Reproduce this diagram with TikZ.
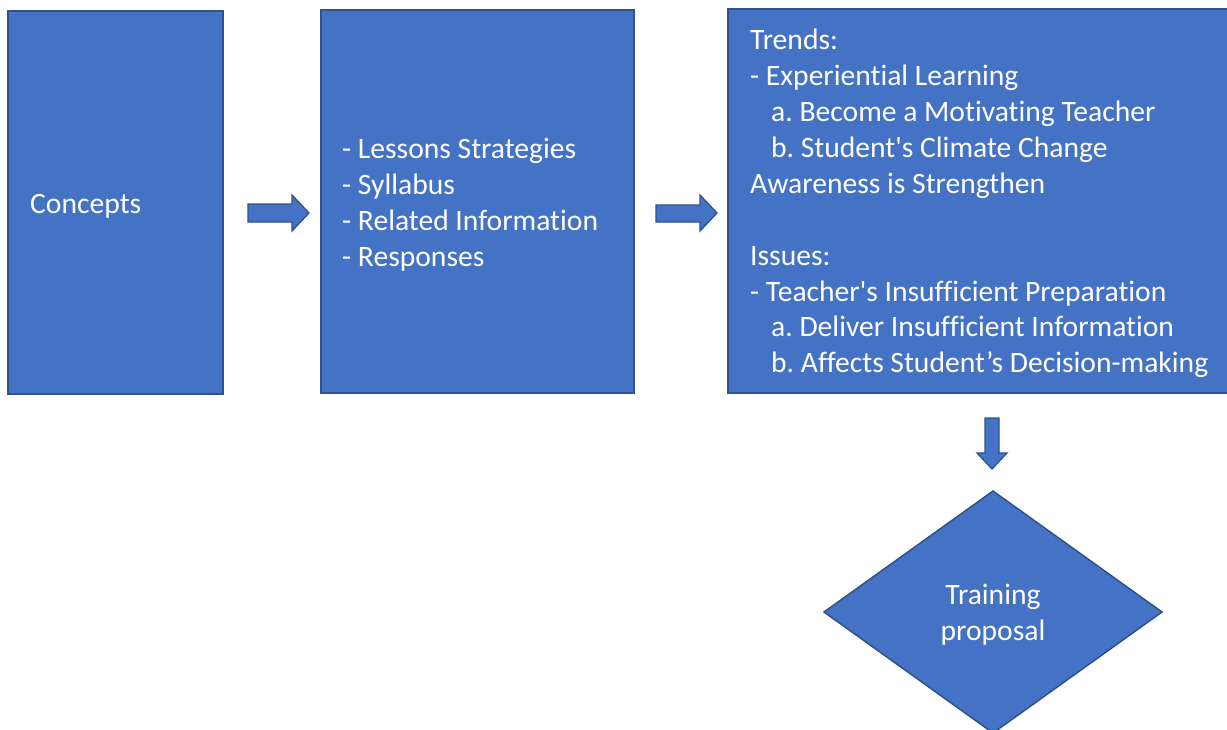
\documentclass[tikz,border=0pt]{standalone}
\usepackage{fontspec}
\defaultfontfeatures{}
\setmainfont{Carlito}[Ligatures={TeXOff,NoCommon}]
\frenchspacing
\definecolor{boxfill}{HTML}{4472C4}
\definecolor{boxline}{HTML}{2F528F}
\begin{document}
\begin{tikzpicture}[x=1pt,y=-1pt,
  box/.style={draw=boxline,fill=boxfill,line width=1.5pt},
  txt/.style={text=white,font=\fontsize{29.6}{35.9}\selectfont\frenchspacing,inner sep=0pt,align=left},
  blockarrow/.style={draw=boxline,fill=boxfill,line width=1.3pt,line join=miter}]
\useasboundingbox (0,0) rectangle (1227,729);
\clip (0,0) rectangle (1227,729);
% boxes
\draw[box] (8,11) rectangle (223,394);
\draw[box] (321,10) rectangle (634,393);
\draw[box] (728,9) rectangle (1240,393);
% diamond
\draw[box] (993,491) -- (1162,612) -- (993,733) -- (824,612) -- cycle;
% texts
\node[txt,anchor=west] (concepts) at (30,206.5) {Concepts};
\node[txt,anchor=west] (list) at (342,204.5) {- Lessons Strategies\\- Syllabus\\- Related Information\\- Responses};
\node[txt,anchor=north west] (trends) at (750,29) {Trends:\\- Experiential Learning\\\hspace*{21pt}a. Become a Motivating Teacher\\\hspace*{21pt}b. Student's Climate Change\\Awareness is Strengthen\\[35.9pt]Issues:\\- Teacher's Insufficient Preparation\\\hspace*{21pt}a. Deliver Insufficient Information\\\hspace*{21pt}b. Affects Student’s Decision-making};
\node[txt,align=center] (train) at (993,615) {Training\\proposal};
% arrows
\draw[blockarrow] (248,204) -- (292,204) -- (292,195) -- (309,213) -- (292,231) -- (292,222) -- (248,222) -- cycle;
\draw[blockarrow] (656,205) -- (700,205) -- (700,195) -- (717,213) -- (700,231) -- (700,222) -- (656,222) -- cycle;
\draw[blockarrow] (985,418) -- (999,418) -- (999,453) -- (1007,453) -- (992,469) -- (977,453) -- (985,453) -- cycle;
\end{tikzpicture}
\end{document}
